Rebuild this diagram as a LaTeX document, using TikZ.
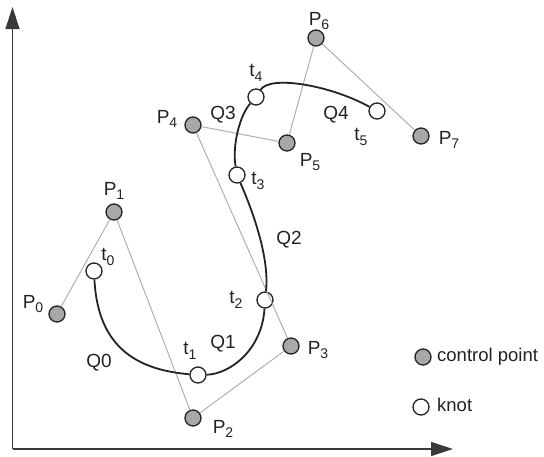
\documentclass[tikz,border=0pt]{standalone}
\usepackage{fontspec}
\setmainfont{Liberation Sans}
\usetikzlibrary{arrows.meta}
\definecolor{ctrlfill}{RGB}{168,168,168}
\definecolor{polyline}{RGB}{175,175,175}
\definecolor{ink}{RGB}{35,35,35}
\newcommand\sublab[2]{#1\raisebox{-0.45ex}{\fontsize{14}{14}\selectfont #2}}
\tikzset{
  ctrlpt/.style={circle,draw=ink,line width=1.3pt,fill=ctrlfill,minimum size=16pt,inner sep=0pt},
  knotpt/.style={circle,draw=ink,line width=1.3pt,fill=white,minimum size=16pt,inner sep=0pt},
  lab/.style={font=\fontsize{19}{19}\selectfont,text=ink,inner sep=0pt},
  legtext/.style={font=\fontsize{18.5}{18.5}\selectfont,text=ink,inner sep=0pt,anchor=west},
  poly/.style={draw=polyline,line width=1pt},
  spline/.style={draw=ink,line width=1.8pt},
  axis/.style={draw=ink!90,line width=1.4pt,-{Triangle[length=22pt,width=14pt]}}
}
\begin{document}
\begin{tikzpicture}[x=1pt,y=-1pt]
\useasboundingbox (0,0) rectangle (544,456);
% axes
\coordinate (orig) at (12.5,449);
\coordinate (ytip) at (12.5,7);
\coordinate (xtip) at (453,449);
\draw[axis] (orig) -- (ytip);
\draw[axis] (orig) -- (xtip);
% control points
\node[ctrlpt] (P0) at (57,314) {};
\node[ctrlpt] (P1) at (114,212) {};
\node[ctrlpt] (P2) at (193,418) {};
\node[ctrlpt] (P3) at (291,346) {};
\node[ctrlpt] (P4) at (193,125) {};
\node[ctrlpt] (P5) at (287,143) {};
\node[ctrlpt] (P6) at (316,38) {};
\node[ctrlpt] (P7) at (421,136) {};
% knots
\node[knotpt] (t0) at (94,271) {};
\node[knotpt] (t1) at (198,375) {};
\node[knotpt] (t2) at (265,300) {};
\node[knotpt] (t3) at (237,175) {};
\node[knotpt] (t4) at (256,97) {};
\node[knotpt] (t5) at (377,111) {};
% control polygon
\draw[poly] (P0) -- (P1);
\draw[poly] (P1) -- (P2);
\draw[poly] (P2) -- (P3);
\draw[poly] (P3) -- (P4);
\draw[poly] (P4) -- (P5);
\draw[poly] (P5) -- (P6);
\draw[poly] (P6) -- (P7);
% spline
\draw[spline] (t0) .. controls (98,350) and (140,370) .. (t1);
\draw[spline] (t1) .. controls (230,374) and (262,350) .. (t2);
\draw[spline] (t2) .. controls (270,255) and (250,205) .. (t3);
\draw[spline] (t3) .. controls (232,145) and (240,115) .. (t4);
\draw[spline] (t4) .. controls (270,75) and (330,85) .. (t5);
% labels
\node[lab] (lP0) at (33,304) {\sublab{P}{0}};
\node[lab] (lP1) at (114,191) {\sublab{P}{1}};
\node[lab] (lP2) at (223,429) {\sublab{P}{2}};
\node[lab] (lP3) at (318,350) {\sublab{P}{3}};
\node[lab] (lP4) at (167,119) {\sublab{P}{4}};
\node[lab] (lP5) at (310,162) {\sublab{P}{5}};
\node[lab] (lP6) at (319,21) {\sublab{P}{6}};
\node[lab] (lP7) at (449,140) {\sublab{P}{7}};
\node[lab] (lt0) at (108,257) {\sublab{t}{0}};
\node[lab] (lt1) at (190,351) {\sublab{t}{1}};
\node[lab] (lt2) at (236,300) {\sublab{t}{2}};
\node[lab] (lt3) at (258,181) {\sublab{t}{3}};
\node[lab] (lt4) at (256,73) {\sublab{t}{4}};
\node[lab] (lt5) at (361,137) {\sublab{t}{5}};
\node[lab] (lQ0) at (99,363) {Q0};
\node[lab] (lQ1) at (223,344) {Q1};
\node[lab] (lQ2) at (289,240) {Q2};
\node[lab] (lQ3) at (223,115) {Q3};
\node[lab] (lQ4) at (336,115) {Q4};
% legend
\node[ctrlpt] (legc) at (423,357) {};
\node[legtext] (legct) at (437,357) {control point};
\node[knotpt] (legk) at (421,407) {};
\node[legtext] (legkt) at (437,405) {knot};
\end{tikzpicture}
\end{document}
